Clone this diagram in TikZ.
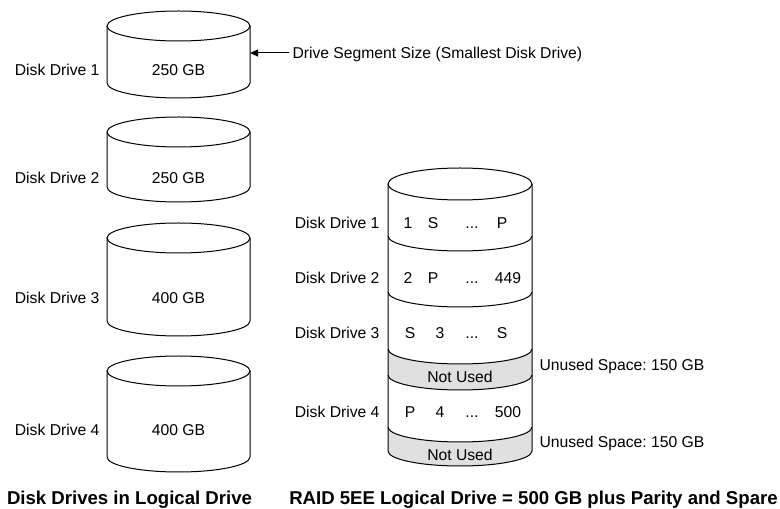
\documentclass[tikz,border=0pt]{standalone}
\usepackage{fontspec}
\setmainfont{Liberation Sans}
\usetikzlibrary{arrows.meta}
\frenchspacing

\begin{document}
\begin{tikzpicture}[x=1pt, y=1pt, line width=1pt, font=\fontsize{15.7}{18}\selectfont, txt/.style={inner sep=0pt, text height=11.2pt, text depth=0pt}, lbl/.style={txt, anchor=east}, ttl/.style={anchor=base, inner sep=0pt, font=\fontsize{18.6}{22}\selectfont\bfseries}, arr/.style={-{Triangle[length=8pt, width=7pt]}}, unused/.style={fill=black!12}]
\useasboundingbox (0,0) rectangle (780,509);
% physical disks
\foreach \t/\b/\l/\c [count=\i] in {483/426/439/250, 377/322/331/250, 271/188/211/400, 138/52/79/400} {
  \draw[fill=white] (107,\t) -- (107,\b) arc[start angle=180, end angle=360, x radius=71.5, y radius=15] -- (250,\t);
  \draw (178.5,\t) ellipse[x radius=71.5, y radius=15];
  \node[lbl] (dd\i) at (100,\l) {Disk Drive \i};
  \node[txt] (sz\i) at (178.5,\l) {\c\ GB};
}
\coordinate (seg) at (250,456);
\node[txt, anchor=west, inner xsep=3pt] (segtxt) at (289,456) {Drive Segment Size (Smallest Disk Drive)};
\draw[arr] (segtxt) -- (seg);
% logical drive
\fill[unused] (388,160) arc[start angle=180, end angle=360, x radius=72, y radius=15] -- (532,134) arc[start angle=0, end angle=-180, x radius=72, y radius=15] -- cycle;
\fill[unused] (388,82) arc[start angle=180, end angle=360, x radius=72, y radius=15] -- (532,58) arc[start angle=0, end angle=-180, x radius=72, y radius=15] -- cycle;
\draw (388,325) -- (388,58) arc[start angle=180, end angle=360, x radius=72, y radius=15] -- (532,325);
\draw (460,325) ellipse[x radius=72, y radius=16];
\foreach \y in {273,217,160,134,82}
  \draw (388,\y) arc[start angle=180, end angle=360, x radius=72, y radius=15];
\foreach \y/\a/\b/\e/\xa/\xb/\xe [count=\i] in {286/1/S/P/408/433/502, 231/2/P/449/408/433/508, 176/S/3/S/410/440/502, 97/P/4/500/410/440/508} {
  \node[lbl] (ld\i) at (380,\y) {Disk Drive \i};
  \node[txt] (c\i a) at (\xa,\y) {\a};
  \node[txt] (c\i b) at (\xb,\y) {\b};
  \node[txt] (c\i d) at (472,\y) {...};
  \node[txt] (c\i e) at (\xe,\y) {\e};
}
\node[txt] (nu1) at (460,132) {Not Used};
\node[txt] (nu2) at (460,54) {Not Used};
\node[txt, anchor=west] (us1) at (539,144) {Unused Space: 150 GB};
\node[txt, anchor=west] (us2) at (539,67) {Unused Space: 150 GB};
% captions
\node[ttl] (capl) at (129.5,4.2) {Disk Drives in Logical Drive};
\node[ttl] (capr) at (533.5,4.2) {RAID 5EE Logical Drive = 500 GB plus Parity and Spare};
\end{tikzpicture}
\end{document}
